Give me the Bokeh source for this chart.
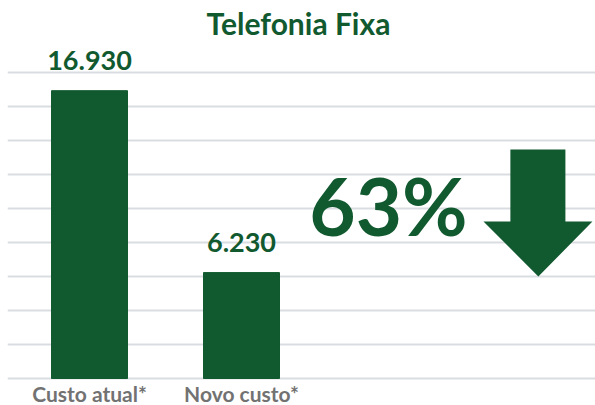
from bokeh.plotting import figure
from bokeh.models import Range1d, FixedTicker
from bokeh.core.properties import value
from bokeh.embed import file_html
from bokeh.resources import INLINE

# data
categories = ["Custo atual*", "Novo custo*"]
costs = [16930, 6230]
cost_labels = ["16.930", "6.230"]
reduction_label = "63%"
title_text = "Telefonia Fixa"
grid_ticks = [0, 2000, 4000, 6000, 8000, 10000, 12000, 14000, 16000, 18000]

GREEN = "#11592f"
GRAY = "#727272"
FONT = "Lato"

xs = list(range(len(categories)))

p = figure(width=595, height=405, output_backend="svg", toolbar_location=None,
           x_range=Range1d(-0.5395, 3.329), y_range=Range1d(-1588, 22235),
           min_border_left=7, min_border_right=0, min_border_top=0, min_border_bottom=0)
p.outline_line_color = None
p.background_fill_color = "white"
p.border_fill_color = "white"
for ax in p.axis:
    ax.visible = False
p.xgrid.visible = False
p.ygrid.ticker = FixedTicker(ticks=grid_ticks)
p.ygrid.grid_line_color = "#d9dde1"
p.ygrid.grid_line_width = 2

# bars
p.vbar(x=xs, top=costs, bottom=0, width=0.5, color=GREEN)

# value labels
p.text(x=xs, y=[c + 1765 for c in costs], text=cost_labels, text_align="center",
       text_baseline="alphabetic", text_font=value(FONT), text_font_style="bold",
       text_font_size="27px", text_color=GREEN)

# category labels
p.text(x=xs, y=[-882] * len(xs), text=categories, text_align="center",
       text_baseline="alphabetic", text_font=value(FONT), text_font_style="bold",
       text_font_size="21px", text_color=GRAY)

# title
p.text(x=[1.375], y=[20940], text=[title_text], text_align="center",
       text_baseline="alphabetic", text_font=value(FONT), text_font_style="bold",
       text_font_size="30px", text_color=GREEN)

# reduction text
p.text(x=[1.967], y=[10235], text=[reduction_label], text_align="center",
       text_baseline="alphabetic", text_font=value(FONT), text_font_style="bold",
       text_font_size="80px", text_color=GREEN)

# down arrow
ax_ = [2.769, 3.131, 3.131, 3.309, 2.953, 2.592, 2.769]
ay_ = [13471, 13471, 9235, 9235, 6000, 9235, 9235]
p.patch(ax_, ay_, color=GREEN, line_width=0)

open("out.html", "w").write(file_html(p, INLINE))
